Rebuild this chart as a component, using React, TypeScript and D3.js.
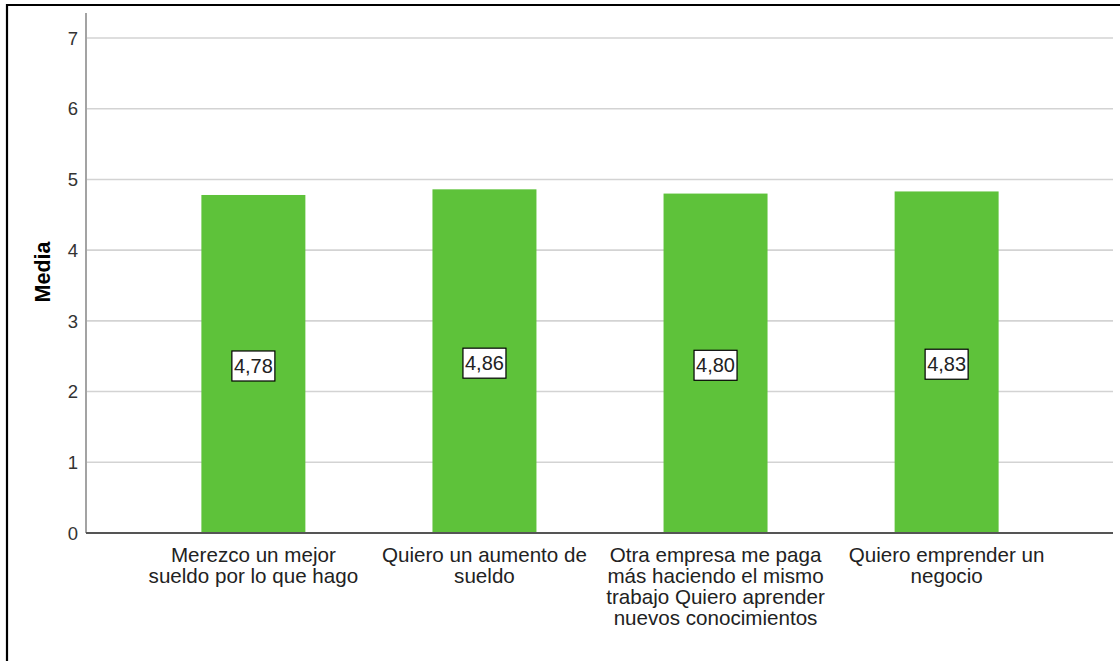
import React from "react";
import * as d3 from "d3";

const categories = [
  "Merezco un mejor sueldo por lo que hago",
  "Quiero un aumento de sueldo",
  "Otra empresa me paga más haciendo el mismo trabajo Quiero aprender nuevos conocimientos",
  "Quiero emprender un negocio",
];
const values = [4.78, 4.86, 4.8, 4.83];
const valueLabels = ["4,78", "4,86", "4,80", "4,83"];
const yTicks = [0, 1, 2, 3, 4, 5, 6, 7];
const yTitle = "Media";

const W = 1120;
const H = 661;
const FONT = "'Liberation Sans', Arial, sans-serif";
const LABEL_SIZE = 20.6;

function wrap(text: string, maxW: number, font: string): string[] {
  const canvas = document.createElement("canvas");
  const ctx = canvas.getContext("2d");
  const measure = (s: string) => {
    if (!ctx) return s.length * 10;
    ctx.font = font;
    return ctx.measureText(s).width;
  };
  const words = text.split(" ");
  const lines: string[] = [];
  let cur = "";
  for (const w of words) {
    const t = cur ? cur + " " + w : w;
    if (cur && measure(t) > maxW) {
      lines.push(cur);
      cur = w;
    } else cur = t;
  }
  if (cur) lines.push(cur);
  return lines;
}

export default function App() {
  const x0 = 87;
  const x1 = 1113;
  const y = d3.scaleLinear().domain([0, 7]).range([533, 38]);
  const x = d3
    .scaleBand<string>()
    .domain(categories)
    .range([x0, x1])
    .paddingInner(0.55)
    .paddingOuter(0.495);

  return (
    <svg
      width={W}
      height={H}
      style={{ position: "absolute", left: 0, top: 0, background: "#fff" }}
      fontFamily={FONT}
    >
      <rect x={0} y={0} width={W} height={H} fill="#fff" />
      {/* frame */}
      <path d={`M7,${H} V5 H${W}`} fill="none" stroke="#000" strokeWidth={2.2} />

      {/* gridlines */}
      {yTicks
        .filter((t) => t > 0)
        .map((t) => (
          <line
            key={"g" + t}
            x1={x0}
            x2={x1}
            y1={y(t)}
            y2={y(t)}
            stroke="#d3d3d3"
            strokeWidth={1.6}
          />
        ))}

      {/* y axis */}
      <line x1={86} x2={86} y1={13} y2={y(0)} stroke="#a3a3a3" strokeWidth={2} />
      {yTicks.map((t) => (
        <text
          key={"t" + t}
          x={78}
          y={y(t)}
          dy="0.36em"
          textAnchor="end"
          fontSize={18.5}
          fill="#333"
        >
          {t}
        </text>
      ))}
      <text
        transform={`translate(50,272) rotate(-90)`}
        textAnchor="middle"
        fontSize={21.5}
        fontWeight="bold"
        fill="#000"
      >
        {yTitle}
      </text>

      {/* bars */}
      {categories.map((c, i) => (
        <rect
          key={"b" + i}
          x={x(c)}
          y={y(values[i])}
          width={x.bandwidth()}
          height={y(0) - y(values[i])}
          fill="#5ec23a"
        />
      ))}

      {/* x axis */}
      <line x1={86} x2={x1} y1={y(0)} y2={y(0)} stroke="#555" strokeWidth={2} />

      {/* value labels */}
      {categories.map((c, i) => {
        const cx = (x(c) as number) + x.bandwidth() / 2;
        const cy = y(values[i] / 2) + 2;
        return (
          <g key={"v" + i}>
            <rect
              x={cx - 21.5}
              y={cy - 15}
              width={43}
              height={30}
              fill="#fff"
              stroke="#000"
              strokeWidth={1.2}
            />
            <text x={cx} y={cy} dy="0.36em" textAnchor="middle" fontSize={20} fill="#222">
              {valueLabels[i]}
            </text>
          </g>
        );
      })}

      {/* category labels */}
      {categories.map((c, i) => {
        const cx = (x(c) as number) + x.bandwidth() / 2;
        const lines = wrap(c, 226, `${LABEL_SIZE}px ${FONT}`);
        return (
          <text key={"c" + i} textAnchor="middle" fontSize={LABEL_SIZE} fill="#222">
            {lines.map((l, j) => (
              <tspan key={j} x={cx} y={562 + j * 21}>
                {l}
              </tspan>
            ))}
          </text>
        );
      })}
    </svg>
  );
}
